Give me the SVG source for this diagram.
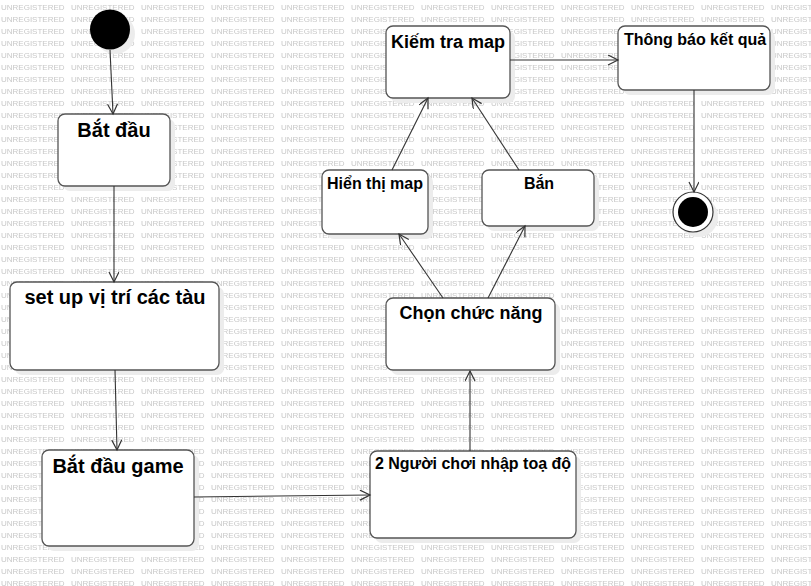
<svg xmlns="http://www.w3.org/2000/svg" width="811" height="586" viewBox="0 0 811 586">
<defs>
<pattern id="wm" patternUnits="userSpaceOnUse" x="0" y="0" width="70" height="12">
<text x="1" y="10.3" class="wm">UNREGISTERED</text>
</pattern>
<marker id="arr" markerUnits="userSpaceOnUse" markerWidth="14" markerHeight="12" refX="11" refY="5" orient="auto">
<path d="M1,0 L11,5 L1,10" fill="none" stroke="#333" stroke-width="1.2"/>
</marker>
</defs>
<style>
.wm{font-family:"Liberation Sans",Arial,sans-serif;font-size:8px;fill:#c8c8c8;}
.box{fill:#fff;stroke:#555;stroke-width:1.3;}
.sh{fill:#ececec;stroke:none;}
.t20{font-family:"Liberation Sans",Arial,sans-serif;font-weight:bold;font-size:20px;fill:#000;text-anchor:middle;}
.t18{font-family:"Liberation Sans",Arial,sans-serif;font-weight:bold;font-size:18px;fill:#000;text-anchor:middle;}
.t16{font-family:"Liberation Sans",Arial,sans-serif;font-weight:bold;font-size:16px;fill:#000;text-anchor:middle;}
.edge{fill:none;stroke:#333;stroke-width:1.1;marker-end:url(#arr);}
.plain{fill:none;stroke:#333;stroke-width:1.1;}
</style>
<rect x="0" y="0" width="811" height="586" fill="#fff"/>
<rect x="0" y="0" width="811" height="586" fill="url(#wm)"/>

<g id="start">
<circle cx="115" cy="34" r="20" class="sh"/>
<circle cx="110" cy="29.5" r="20" fill="#000"/>
</g>

<g id="n-batdau">
<rect x="63" y="119" width="112" height="72" rx="7" class="sh"/>
<rect x="58" y="114" width="112" height="72" rx="7" class="box"/>
<text x="114" y="137" class="t20">Bắt đầu</text>
</g>

<g id="n-setup">
<rect x="15" y="287" width="209" height="88" rx="7" class="sh"/>
<rect x="10" y="282" width="209" height="88" rx="7" class="box"/>
<text x="115" y="304" class="t20">set up vị trí các tàu</text>
</g>

<g id="n-batdaugame">
<rect x="47" y="455" width="152" height="96" rx="7" class="sh"/>
<rect x="42" y="450" width="152" height="96" rx="7" class="box"/>
<text x="118" y="473" class="t20">Bắt đầu game</text>
</g>

<g id="n-nhap">
<rect x="375" y="456" width="206" height="87" rx="7" class="sh"/>
<rect x="370" y="451" width="206" height="87" rx="7" class="box"/>
<text x="473" y="469" class="t16">2 Người chơi nhập toạ độ</text>
</g>

<g id="n-chon">
<rect x="391" y="303" width="169" height="72" rx="7" class="sh"/>
<rect x="386" y="298" width="169" height="72" rx="7" class="box"/>
<text x="471" y="319" class="t18">Chọn chức năng</text>
</g>

<g id="n-hienthi">
<rect x="327" y="175" width="106" height="64" rx="7" class="sh"/>
<rect x="322" y="170" width="106" height="64" rx="7" class="box"/>
<text x="375" y="189" class="t16">Hiển thị map</text>
</g>

<g id="n-ban">
<rect x="487" y="175" width="112" height="56" rx="7" class="sh"/>
<rect x="482" y="170" width="112" height="56" rx="7" class="box"/>
<text x="539" y="189" class="t16">Bắn</text>
</g>

<g id="n-kiemtra">
<rect x="391" y="31" width="124" height="72" rx="7" class="sh"/>
<rect x="386" y="26" width="124" height="72" rx="7" class="box"/>
<text x="448" y="48" class="t18">Kiếm tra map</text>
</g>

<g id="n-thongbao">
<rect x="623" y="31" width="152" height="64" rx="7" class="sh"/>
<rect x="618" y="26" width="152" height="64" rx="7" class="box"/>
<text x="695" y="45" class="t16">Thông báo kết quả</text>
</g>

<g id="end">
<circle cx="698" cy="217" r="20" class="sh"/>
<circle cx="693" cy="212" r="20" fill="#fff" stroke="#333" stroke-width="1.2"/>
<circle cx="693" cy="212" r="15" fill="#000"/>
</g>

<g id="connectors">
<path class="edge" d="M110,50 L113,114"/>
<path class="edge" d="M114,186 L114,282"/>
<path class="edge" d="M115,370 L117,450"/>
<path class="edge" d="M194,497 L370,495"/>
<path class="edge" d="M470,451 L470,371"/>
<path class="edge" d="M443,298 L399,234"/>
<path class="edge" d="M488,298 L525,226"/>
<path class="edge" d="M392,170 L428,98"/>
<path class="edge" d="M519,170 L472,98"/>
<path class="edge" d="M510,60 L618,60"/>
<path class="edge" d="M694,90 L694,192"/>
</g>
</svg>
